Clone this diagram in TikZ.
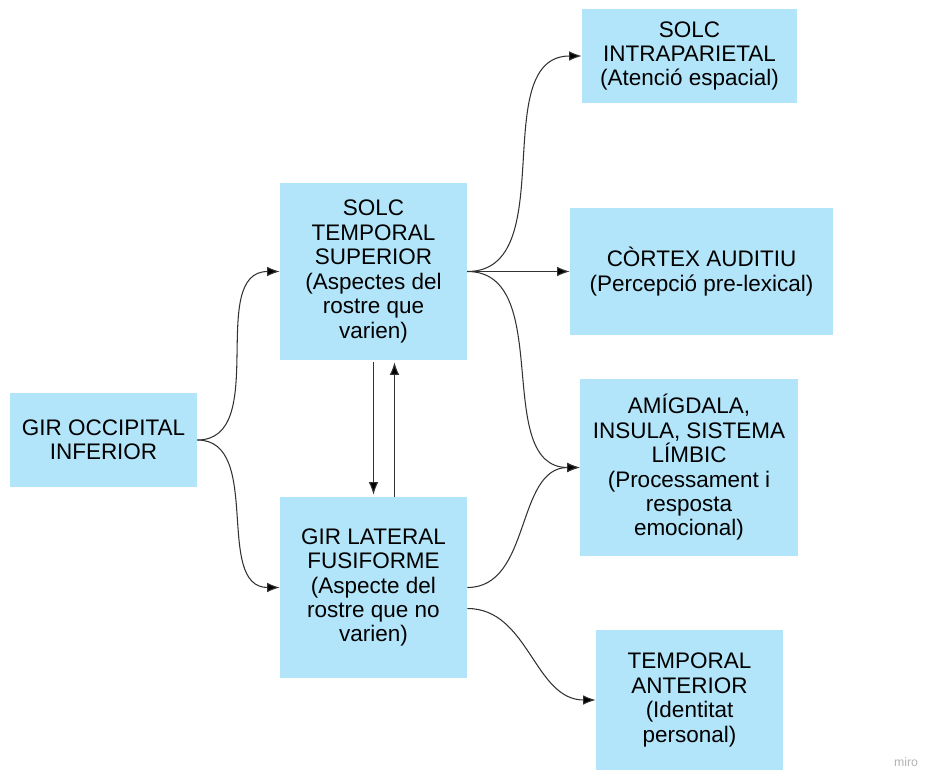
\documentclass[tikz,border=0pt]{standalone}
\usepackage{fontspec}
\setmainfont{Liberation Sans}
\usetikzlibrary{arrows.meta}
\definecolor{boxblue}{RGB}{178,229,249}
\definecolor{linegray}{RGB}{50,50,50}
\begin{document}
\begin{tikzpicture}[x=0.02cm,y=-0.02cm,
  box/.style={fill=boxblue,draw=none,align=center,inner sep=0pt,
    font=\fontsize{12.8}{13.9}\selectfont},
  link/.style={draw=linegray,line width=0.6pt,-{Latex[length=2.5mm,width=1.9mm,fill=black]}}]
\useasboundingbox (0,0) rectangle (930,771);

\node[box,minimum width=3.74cm,minimum height=1.88cm] (occ) at (103.5,440) {GIR OCCIPITAL\\INFERIOR};

\node[box,minimum width=3.74cm,minimum height=3.54cm] (sts) at (373.5,271.5) {SOLC\\TEMPORAL\\SUPERIOR\\(Aspectes del\\rostre que\\varien)};

\node[box,minimum width=3.74cm,minimum height=3.62cm] (glf) at (373.5,587.5) {GIR LATERAL\\FUSIFORME\\(Aspecte del\\rostre que no\\varien)};

\node[box,minimum width=4.3cm,minimum height=1.88cm] (ips) at (689.5,56) {SOLC\\INTRAPARIETAL\\(Atenció espacial)};

\node[box,minimum width=5.26cm,minimum height=2.54cm] (aud) at (701.5,271.5) {CÒRTEX AUDITIU\\(Percepció pre-lexical)};

\node[box,minimum width=4.36cm,minimum height=3.54cm] (amy) at (689,467.5) {AMÍGDALA,\\INSULA, SISTEMA\\LÍMBIC\\(Processament i\\resposta\\emocional)};

\node[box,minimum width=3.74cm,minimum height=2.8cm] (tan) at (689.5,700) {TEMPORAL\\ANTERIOR\\(Identitat\\personal)};

\node[text=black!30,font=\fontsize{7}{8}\selectfont,inner sep=0pt] (wm) at (906,762) {miro};

% from the occipital gyrus
\draw[link] (occ.east) to[out=0,in=180] (sts.west);
\draw[link] (occ.east) to[out=0,in=180] (glf.west);

% between STS and fusiform
\draw[link] ([yshift=-0.04cm]sts.south) -- ([yshift=0.04cm]glf.north);
\draw[link] ([xshift=0.42cm]glf.north) -- ([xshift=0.42cm,yshift=-0.04cm]sts.south);

% out of the STS
\draw[link] (sts.east) to[out=0,in=180] (ips.west);
\draw[link] (sts.east) -- (aud.west);
\draw[link] (sts.east) to[out=0,in=180] (amy.west);

% out of the fusiform gyrus
\draw[link] (glf.east) to[out=0,in=180] (amy.west);
\draw[link] ([yshift=-0.42cm]glf.east) to[out=0,in=180] (tan.west);
\end{tikzpicture}
\end{document}
